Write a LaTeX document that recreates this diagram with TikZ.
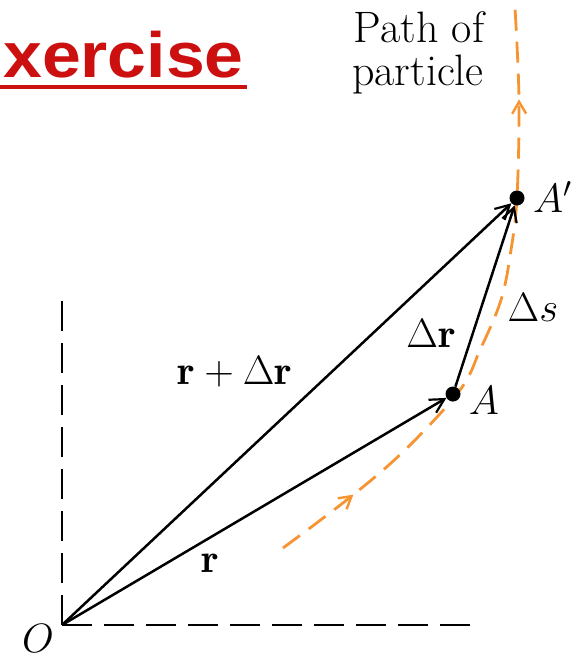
\RequirePackage{fix-cm}
\documentclass[tikz,border=0pt]{standalone}
\usepackage{fontspec}
\newfontfamily\exfont{Liberation Sans}
\usetikzlibrary{arrows.meta,decorations.markings}
\definecolor{exred}{RGB}{204,16,16}
\definecolor{pathorange}{RGB}{247,148,50}
\begin{document}
\begin{tikzpicture}[x=1pt,y=-1pt,
  lbl/.style={font=\fontsize{41}{48}\selectfont, inner sep=0pt},
  plbl/.style={font=\fontsize{44}{50}\selectfont, inner sep=0pt},
  vec/.style={line width=2.5pt, -{Straight Barb[length=14pt,width=15pt,line width=2.2pt]}},
  axisline/.style={line width=2.8pt, dash pattern=on 30pt off 12pt},
  dot/.style={circle, fill=black, inner sep=0pt, minimum size=15pt},
  orangepath/.style={pathorange, line width=2.8pt, dash pattern=on 21pt off 11pt},
  pathtip/.style={pathorange, line width=2.4pt}]
\clip (0,0) rectangle (578,657);
% title
\node[anchor=base east, font=\exfont\bfseries\fontsize{64}{72}\selectfont, text=exred, inner sep=0pt] (ex) at (244,77) {\scalebox{1.09}[1]{Exercise}};
\coordinate (ulA) at (0,87);
\coordinate (ulB) at (247,87);
\draw[exred, line width=4pt] (ulA) -- (ulB);
% axes
\coordinate (O) at (62,625);
\coordinate (yend) at (62,295);
\coordinate (xend) at (478,625);
\draw[axisline] (O) -- (yend);
\draw[axisline] (O) -- (xend);
% path of particle
\draw[orangepath, decoration={markings,
    mark=at position 0.14 with {\arrow[pathtip]{Straight Barb[length=12pt,width=14pt]}},
    mark=at position 0.855 with {\arrow[pathtip]{Straight Barb[length=12pt,width=14pt]}}},
    postaction={decorate}]
  plot[smooth, tension=0.6] coordinates {(283,548) (353,495) (407,448) (460,390) (480,350) (501,300) (511,250) (517,197) (519,100) (515,8)};
% points
\node[dot] (A) at (453,394) {};
\node[dot] (Ap) at (517,198) {};
% vectors
\draw[vec] (O) -- (A);
\draw[vec] (O) -- (Ap);
\draw[vec] (A) -- (Ap);
% labels
\node[lbl] (lrdr) at (235,372) {$\mathbf{r}+\Delta\mathbf{r}$};
\node[lbl] (lr) at (210,563) {$\mathbf{r}$};
\node[lbl] (ldr) at (431,333) {$\Delta\mathbf{r}$};
\node[lbl] (lds) at (533,307) {$\Delta s$};
\node[lbl] (lA) at (484,400) {$A$};
\node[lbl, anchor=west] (lAp) at (533,197) {$A'$};
\node[lbl] (lO) at (38,638) {$O$};
\node[plbl, anchor=base] (lpath1) at (419,42) {Path of};
\node[plbl, anchor=base] (lpath2) at (418,85) {particle};
\end{tikzpicture}
\end{document}
